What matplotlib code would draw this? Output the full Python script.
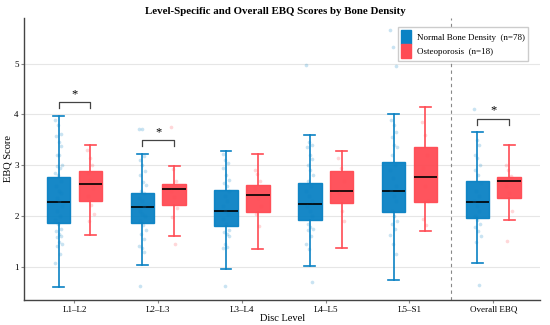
import matplotlib
matplotlib.use("Agg")
import matplotlib.pyplot as plt
from matplotlib.patches import Patch

plt.rcParams["font.family"] = ["Liberation Serif", "DejaVu Serif"]

levels = ["L1\u2013L2", "L2\u2013L3", "L3\u2013L4", "L4\u2013L5", "L5\u2013S1", "Overall EBQ"]

# box stats: whislo, q1, median, q3, whishi
normal_stats = [
    [0.61, 1.86, 2.28, 2.76, 3.96],
    [1.03, 1.87, 2.17, 2.46, 3.23],
    [0.96, 1.80, 2.11, 2.51, 3.29],
    [1.01, 1.92, 2.24, 2.66, 3.59],
    [0.75, 2.09, 2.49, 3.06, 4.00],
    [1.07, 1.96, 2.28, 2.70, 3.65],
]
osteo_stats = [
    [1.62, 2.30, 2.64, 2.89, 3.39],
    [1.61, 2.21, 2.54, 2.64, 2.99],
    [1.35, 2.09, 2.41, 2.62, 3.22],
    [1.38, 2.25, 2.50, 2.89, 3.29],
    [1.71, 2.28, 2.76, 3.36, 4.15],
    [1.93, 2.35, 2.70, 2.77, 3.39],
]

# individual scores (visible jittered points)
normal_points = [
    [3.9, 3.8, 3.62, 3.58, 3.45, 3.38, 3.2, 3.2, 3.0, 2.98, 2.95, 2.85, 2.8, 2.7, 2.6, 2.5,
     2.45, 2.35, 2.3, 2.2, 2.1, 2.0, 1.92, 1.85, 1.75, 1.7, 1.65, 1.6, 1.58, 1.5, 1.45, 1.42, 1.25, 1.08],
    [3.72, 3.72, 3.18, 3.1, 3.0, 2.88, 2.8, 2.68, 2.62, 2.5, 2.45, 2.35, 2.3, 2.2, 2.1, 2.05, 2.0,
     1.9, 1.82, 1.72, 1.65, 1.55, 1.42, 1.38, 1.3, 0.62],
    [3.22, 3.1, 3.05, 2.95, 2.8, 2.72, 2.65, 2.6, 2.5, 2.4, 2.3, 2.2, 2.1, 2.05, 1.95, 1.85,
     1.72, 1.68, 1.65, 1.6, 1.45, 1.4, 1.38, 0.63],
    [4.98, 3.45, 3.4, 3.35, 3.2, 3.12, 3.0, 2.9, 2.8, 2.7, 2.6, 2.5, 2.4, 2.3, 2.2, 2.1, 2.0,
     1.85, 1.78, 1.75, 1.72, 1.6, 1.45, 1.35, 0.7],
    [5.67, 5.33, 4.96, 3.9, 3.8, 3.65, 3.55, 3.4, 3.35, 3.2, 3.0, 2.9, 2.75, 2.6, 2.5, 2.4,
     2.3, 2.1, 2.0, 1.9, 1.85, 1.75, 1.62, 1.45, 1.25],
    [4.1, 3.5, 3.4, 3.2, 3.15, 3.0, 2.9, 2.8, 2.65, 2.5, 2.4, 2.3, 2.2, 2.1, 2.0, 1.92, 1.85,
     1.78, 1.7, 1.6, 1.5, 0.65],
]
osteo_points = [
    [3.3, 3.15, 3.0, 2.85, 2.72, 2.55, 2.4, 2.22, 2.05, 1.9],
    [3.75, 2.92, 2.7, 2.5, 2.38, 2.15, 1.98, 1.45],
    [2.9, 2.82, 2.7, 2.55, 2.35, 2.2, 2.05, 1.8],
    [3.15, 2.95, 2.7, 2.45, 2.1, 1.9],
    [3.85, 3.6, 3.2, 2.95, 2.6, 2.3, 1.95, 1.82],
    [3.0, 2.9, 2.78, 2.6, 2.45, 2.1, 1.51],
]

# significant pairs: (level index, bracket height)
sig_pairs = [(0, 4.24), (1, 3.49), (5, 3.92)]

blue = "#0a82c4"
red = "#ff4b54"
off = 0.19
width = 0.28

fig = plt.figure(figsize=(5.5, 3.25), dpi=100)
ax = fig.add_axes([0.044, 0.077, 0.938, 0.868])

for i in range(len(levels)):
    for stats, pts, col, sgn in [(normal_stats[i], normal_points[i], blue, -1),
                                 (osteo_stats[i], osteo_points[i], red, 1)]:
        x = i + sgn * off
        st = dict(whislo=stats[0], q1=stats[1], med=stats[2], q3=stats[3],
                  whishi=stats[4], fliers=[])
        ax.bxp([st], positions=[x], widths=width, patch_artist=True, showfliers=False,
               boxprops=dict(facecolor=col, edgecolor=col, alpha=0.95, linewidth=1.0),
               whiskerprops=dict(color=col, linewidth=1.2),
               capprops=dict(color=col, linewidth=1.2),
               medianprops=dict(color="black", linewidth=1.2),
               capwidths=0.13)
        jit = [((k * 37) % 11 - 5) / 5 * 0.04 for k in range(len(pts))]
        ax.scatter([x + j for j in jit], pts, s=7, color=col, alpha=0.22,
                   linewidths=0, zorder=3)

for i, h in sig_pairs:
    x0, x1 = i - off, i + off
    ax.plot([x0, x0, x1, x1], [h - 0.12, h, h, h - 0.12], color="#444444", lw=0.9)
    ax.text(i, h + 0.04, "*", ha="center", va="bottom", fontsize=9)

ax.axvline(4.5, color="#888888", ls=(0, (3, 3)), lw=0.8)

ax.set_xlim(-0.6, 5.56)
ax.set_ylim(0.35, 5.9)
ax.set_xticks(range(len(levels)))
ax.set_xticklabels(levels)
ax.set_yticks([1, 2, 3, 4, 5])
ax.tick_params(labelsize=6.5, length=2, pad=2, color="#888888")
ax.grid(axis="y", color="#e6e6e6", lw=0.8)
ax.set_axisbelow(True)
for s in ["top", "right"]:
    ax.spines[s].set_visible(False)
for s in ["left", "bottom"]:
    ax.spines[s].set_color("#444444")
    ax.spines[s].set_linewidth(1.0)

ax.set_xlabel("Disc Level", fontsize=7.5, labelpad=0)
ax.set_ylabel("EBQ Score", fontsize=7.5, labelpad=1)
fig.suptitle("Level-Specific and Overall EBQ Scores by Bone Density",
             fontsize=7.8, fontweight="bold", y=0.98)

handles = [Patch(facecolor=blue, edgecolor=blue, label="Normal Bone Density  (n=78)"),
           Patch(facecolor=red, edgecolor=red, label="Osteoporosis  (n=18)")]
ax.legend(handles=handles, loc="upper right", bbox_to_anchor=(0.985, 0.985),
          fontsize=6.5, fancybox=False, edgecolor="#cccccc", framealpha=1,
          handlelength=1.1, handleheight=2.0, borderpad=0.35, labelspacing=0.0,
          handletextpad=0.6)

plt.savefig("out.png", dpi=100)
